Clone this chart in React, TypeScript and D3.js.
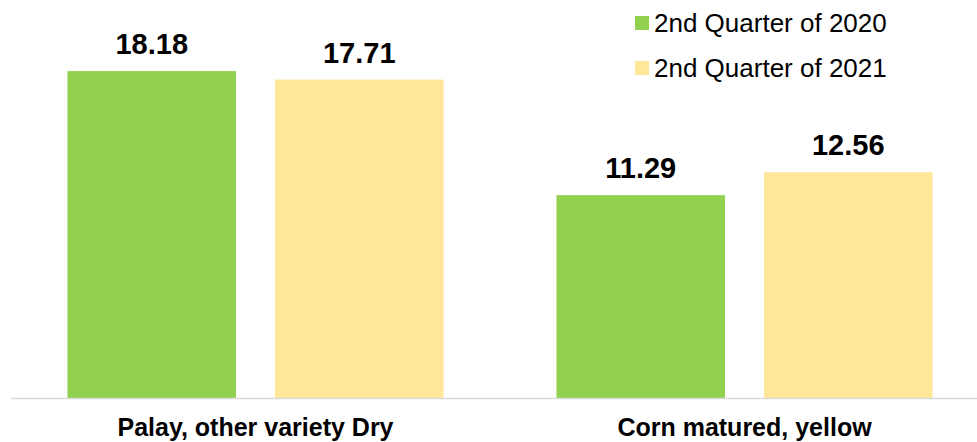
import React from "react";
import * as d3 from "d3";

const categories = ["Palay, other variety Dry", "Corn matured, yellow"];
const seriesNames = ["2nd Quarter of 2020", "2nd Quarter of 2021"];
const values2020 = [18.18, 11.29];
const values2021 = [17.71, 12.56];
const seriesColors = ["#92d050", "#ffe699"];

const W = 977;
const H = 442;

export default function App() {
  const baseline = 398.5;
  const x0 = d3
    .scaleBand<string>()
    .domain(categories)
    .range([11, 989])
    .paddingInner(0.231)
    .paddingOuter(0.1155);
  const x1 = d3
    .scaleBand<string>()
    .domain(seriesNames)
    .range([0, x0.bandwidth()])
    .paddingInner(0.188);
  const y = d3.scaleLinear().domain([0, 20]).range([baseline, 38.3]);
  const series = [values2020, values2021];
  const font = "Arial, 'Liberation Sans', sans-serif";

  return (
    <svg
      width={W}
      height={H}
      style={{ position: "absolute", left: 0, top: 0, background: "#fff" }}
      fontFamily={font}
    >
      {categories.map((c, ci) => (
        <g key={c} transform={`translate(${x0(c)},0)`}>
          {seriesNames.map((s, si) => {
            const v = series[si][ci];
            const bx = x1(s)!;
            const by = y(v);
            return (
              <g key={s}>
                <rect
                  x={bx}
                  y={by}
                  width={x1.bandwidth()}
                  height={baseline - by}
                  fill={seriesColors[si]}
                />
                <text
                  x={bx + x1.bandwidth() / 2}
                  y={by - 17}
                  textAnchor="middle"
                  fontWeight="bold"
                  fontSize={29}
                  fill="#000"
                >
                  {v.toFixed(2)}
                </text>
              </g>
            );
          })}
          <text
            x={x0.bandwidth() / 2}
            y={436}
            textAnchor="middle"
            fontWeight="bold"
            fontSize={25}
            fill="#000"
          >
            {c}
          </text>
        </g>
      ))}
      <line x1={11} x2={977} y1={baseline} y2={baseline} stroke="#d9d9d9" strokeWidth={1.5} />
      {seriesNames.map((s, si) => (
        <g key={s} transform={`translate(635,${16 + si * 45})`}>
          <rect x={0} y={0} width={14} height={14} fill={seriesColors[si]} />
          <text x={19} y={15.5} fontSize={26} fill="#000">
            {s}
          </text>
        </g>
      ))}
    </svg>
  );
}
